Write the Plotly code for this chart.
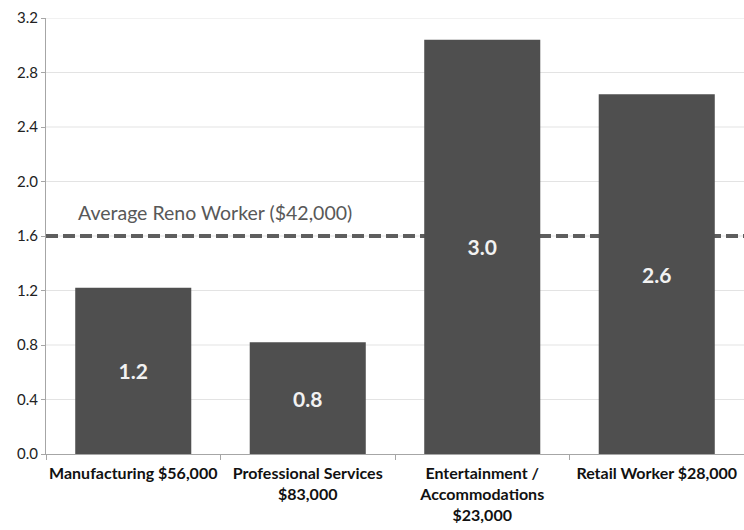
import plotly.graph_objects as go

# Ratio values per sector, with average annual wage in the label
categories = [
    "Manufacturing $56,000",
    "Professional Services<br>$83,000",
    "Entertainment /<br>Accommodations<br>$23,000",
    "Retail Worker $28,000",
]
values = [1.22, 0.82, 3.04, 2.64]
average_value = 1.6
average_label = "Average Reno Worker ($42,000)"
y_ticks = [0.0, 0.4, 0.8, 1.2, 1.6, 2.0, 2.4, 2.8, 3.2]

FONT = "Lato, 'Open Sans', sans-serif"

fig = go.Figure()
fig.add_trace(go.Bar(
    x=categories,
    y=values,
    marker=dict(color="#4f4f4f", line=dict(width=0)),
    texttemplate="%{y:.1f}",
    textposition="inside",
    insidetextanchor="middle",
    textangle=0,
    textfont=dict(family=FONT, size=21, color="#f2f2f2", weight="bold"),
    cliponaxis=False,
    hoverinfo="skip",
))

# Light horizontal grid, drawn underneath everything
for t in y_ticks[1:]:
    fig.add_shape(
        type="line", xref="paper", yref="y",
        x0=0, x1=1, y0=t, y1=t,
        line=dict(color="#e3e3e3", width=1),
        layer="below",
    )

# Dashed reference line for the average worker, under the bars
fig.add_shape(
    type="line", xref="paper", yref="y",
    x0=0, x1=1, y0=average_value, y1=average_value,
    line=dict(color="#5e5e5e", width=4, dash="12px,5px"),
    layer="below",
)
fig.add_annotation(
    xref="paper", yref="y",
    x=(76 - 46) / 698, y=average_value,
    xanchor="left", yanchor="middle", yshift=24,
    text=average_label, showarrow=False,
    font=dict(family=FONT, size=19.5, color="#585858"),
)

fig.update_layout(
    width=744, height=530,
    margin=dict(l=46, r=0, t=18, b=76),
    paper_bgcolor="white", plot_bgcolor="white",
    showlegend=False,
    bargap=0.335,
    font=dict(family=FONT, color="#222222"),
)
fig.update_xaxes(
    showline=True, linecolor="#a6a6a6", linewidth=1,
    ticks="outside", tickson="boundaries", ticklen=5, tickcolor="#a6a6a6",
    tickangle=0, ticklabelstandoff=5,
    tickfont=dict(family=FONT, size=16, color="#111111", weight="bold"),
    showgrid=False,
)
fig.update_yaxes(
    range=[0, 3.2], tickvals=y_ticks, tickformat=".1f",
    showline=True, linecolor="#a6a6a6", linewidth=1,
    ticks="outside", ticklen=4, tickcolor="#a6a6a6",
    tickfont=dict(family=FONT, size=15, color="#222222"),
    showgrid=False,
    zeroline=False,
)

fig.write_html("out.html")
